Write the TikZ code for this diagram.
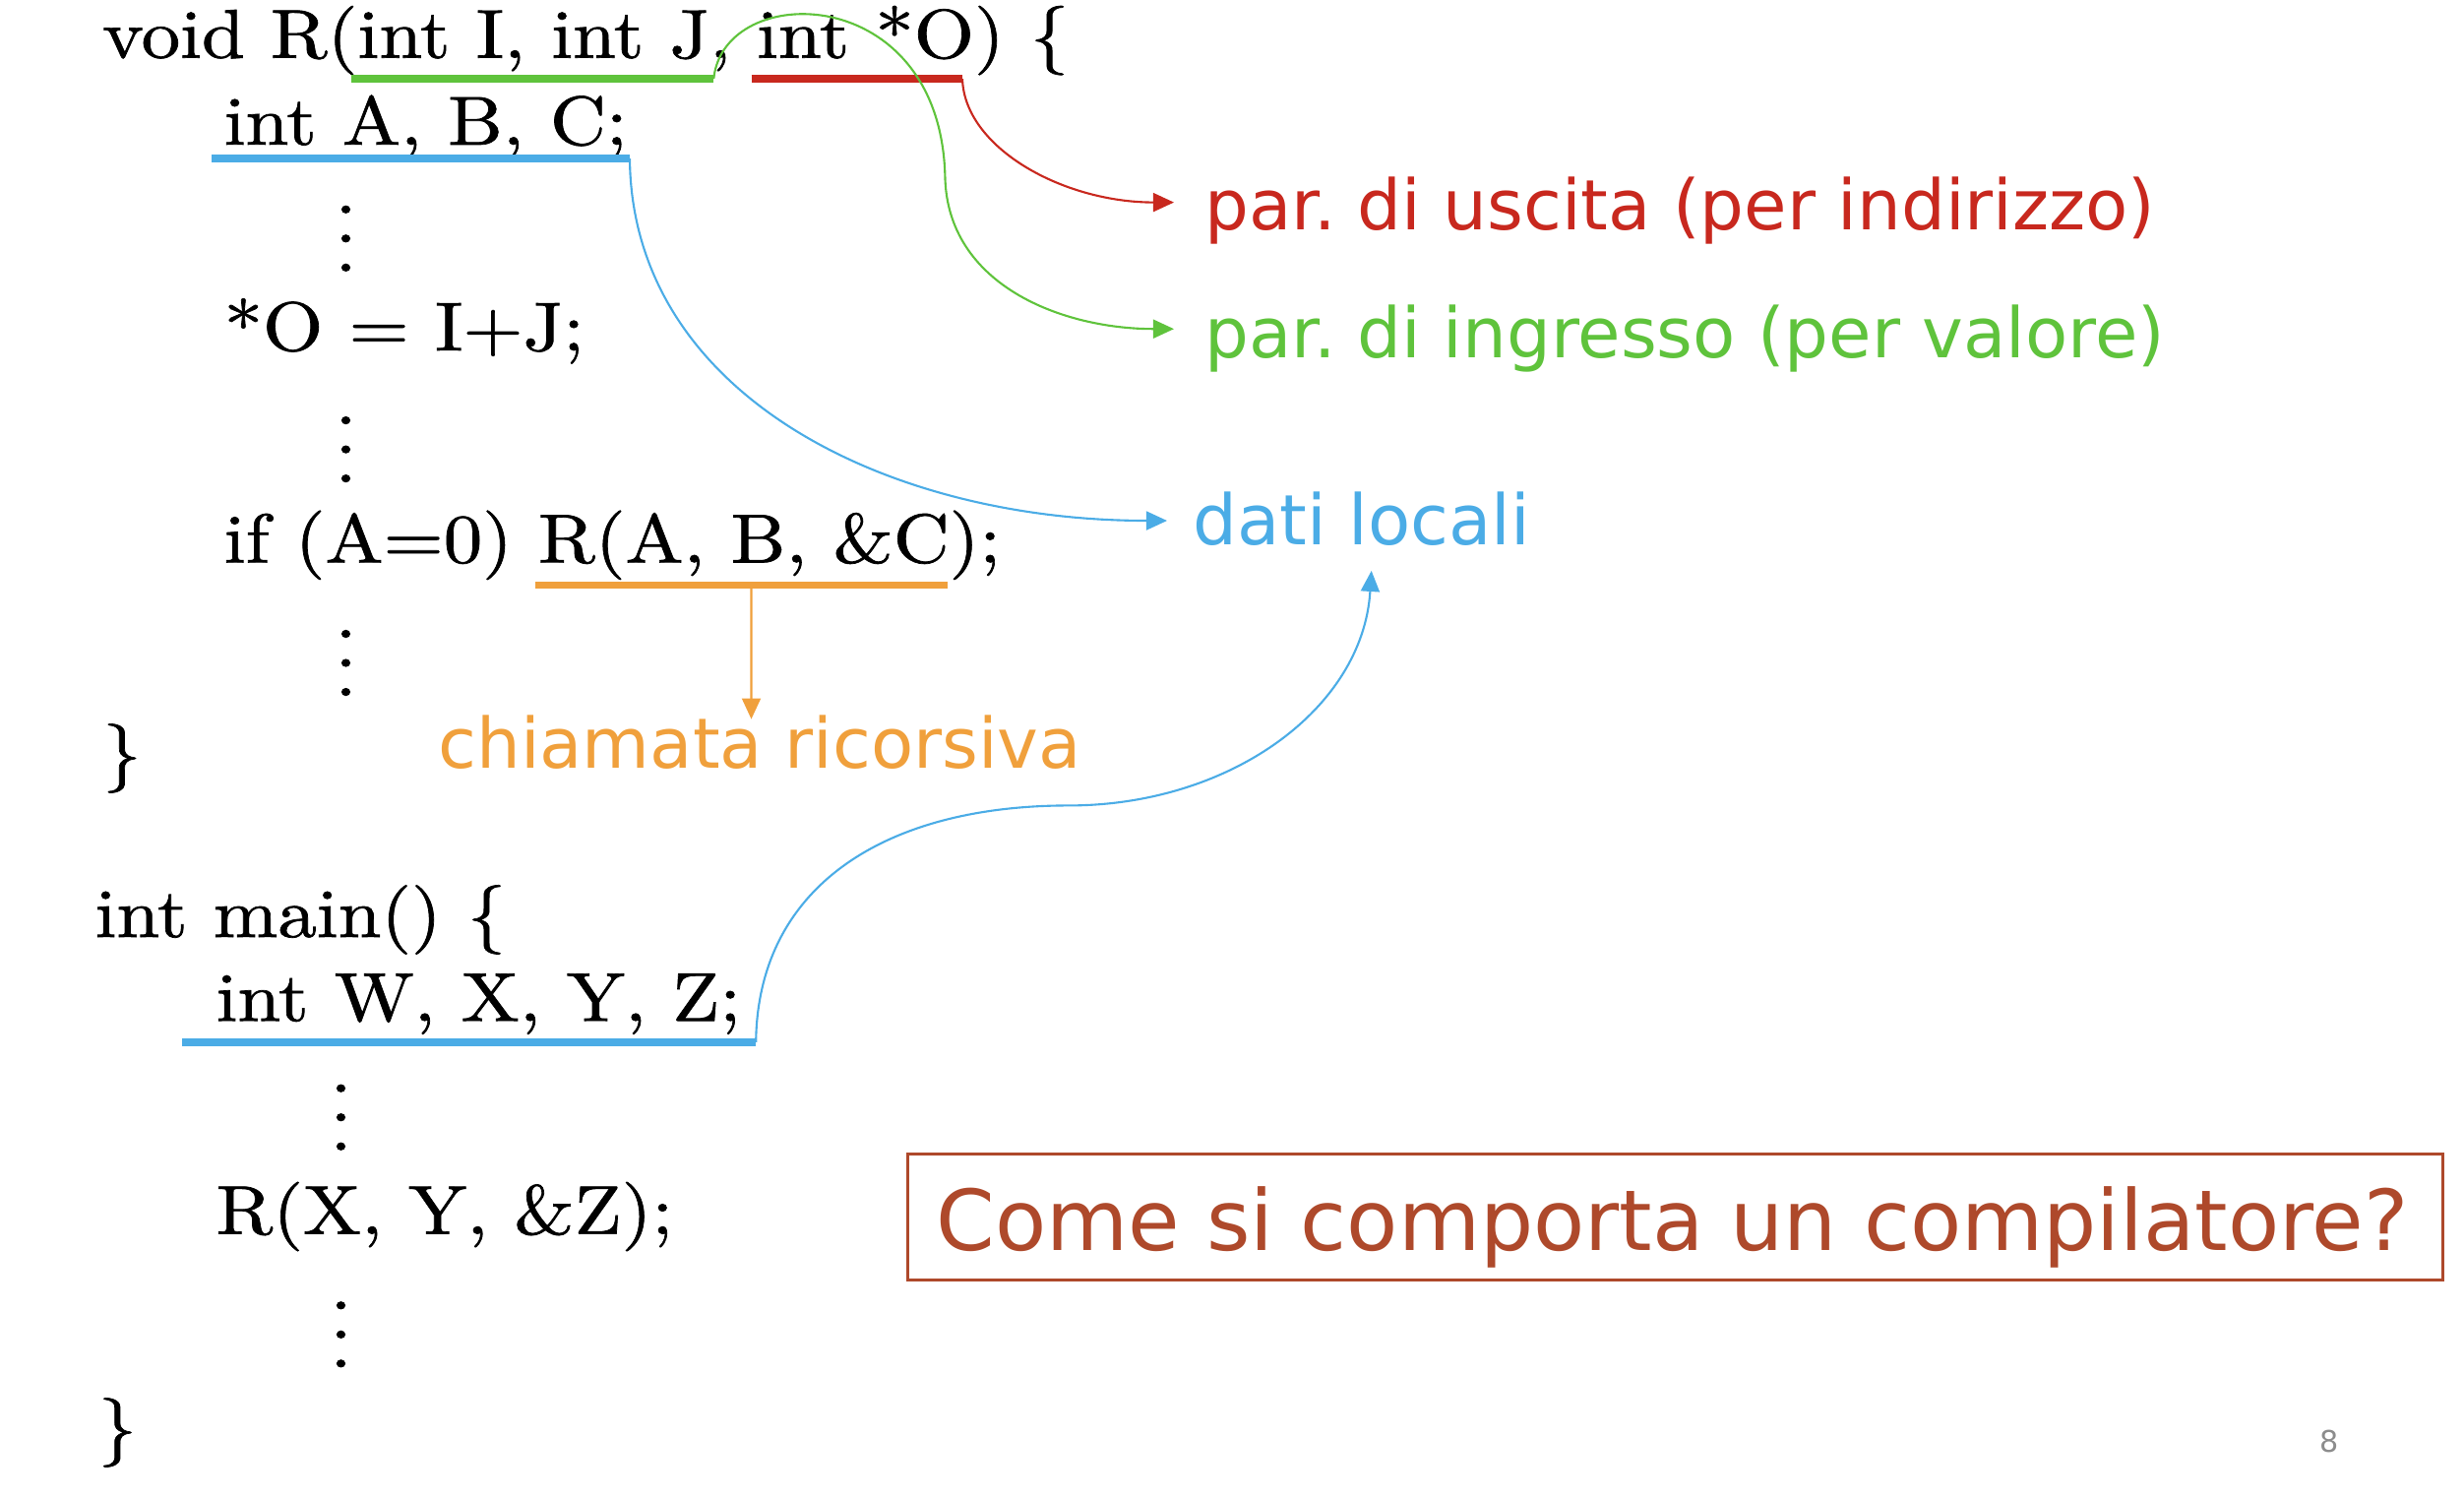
\documentclass[tikz,border=0pt]{standalone}
\usepackage{fontspec}
\usetikzlibrary{arrows.meta}
\newfontfamily\notefont{DejaVu Sans}
\newfontfamily\codefont[FakeStretch=1.12,FakeBold=1]{lmroman10-regular.otf}
\definecolor{parout}{HTML}{C8281E}
\definecolor{parin}{HTML}{5FC33C}
\definecolor{local}{HTML}{4BACE6}
\definecolor{recur}{HTML}{F0A03C}
\definecolor{question}{HTML}{AE492B}
\tikzset{
  code/.style={anchor=base west, inner sep=0pt, font=\codefont\fontsize{20}{24}\selectfont},
  note/.style={anchor=base west, inner sep=0pt, font=\notefont\fontsize{20.1}{24}\selectfont\frenchspacing},
  uline/.style={line width=2.2pt},
  link/.style={line width=0.6pt, -{Triangle[length=6pt,width=5.4pt]}},
}
\newcommand{\codedots}[3]{\node[inner sep=0pt, font=\codefont\fontsize{20}{24}\selectfont] (#1) at (#2,#3) {\vbox{\baselineskip=8.4pt\lineskiplimit=0pt\hbox{.}\hbox{.}\hbox{.}}};}

\begin{document}
\begin{tikzpicture}[x=0.1mm,y=-0.1mm]
    \useasboundingbox (0,0) rectangle (2504,1522);
    % function R
    \node[code] (headR) at (103.6,58.7) {void R(int I, int J, int *O) \{};
    \node[code] (declR) at (227,146.9) {int A, B, C;};
    \codedots{dotsA}{351.5}{242.3}
    \node[code] (assign) at (227,356) {*O = I+J;};
    \codedots{dotsB}{351.5}{456.6}
    \node[code] (callR) at (227,571.4) {if (A=0) R(A, B, \&C);};
    \codedots{dotsC}{351.5}{673.5}
    \node[code] (closeR) at (103.6,788) {\}};
    % function main
    \node[code] (headM) at (95.8,952) {int main() \{};
    \node[code] (declM) at (218.8,1037.2) {int W, X, Y, Z;};
    \codedots{dotsD}{346.5}{1135.2}
    \node[code] (callM) at (218.8,1253.6) {R(X, Y, \&Z);};
    \codedots{dotsE}{346.5}{1355.8}
    \node[code] (closeM) at (99,1473) {\}};
    % labels
    \node[note, text=parout] (uscita) at (1223.6,233.9) {par. di uscita (per indirizzo)};
    \node[note, text=parin] (ingresso) at (1223.6,363.4) {par. di ingresso (per valore)};
    \node[note, text=local] (locali) at (1211.9,553.1) {dati locali};
    \node[note, text=recur] (ricorsiva) at (444.7,780.6) {chiamata ricorsiva};
    \node[draw=question, line width=0.85pt, outer sep=0pt, inner xsep=2.9mm, inner ysep=1mm,
          text height=8.73mm, text depth=2mm, anchor=base west, text=question,
          font=\notefont\fontsize{24.3}{28}\selectfont] (domanda) at (922.7,1270)
          {\makebox[150.2mm][l]{Come si comporta un compilatore?}};
    \node[anchor=base west, inner sep=0pt, text=black!45, font=\notefont\fontsize{8.6}{10}\selectfont] (pagina) at (2357,1475) {8};
    % underlines
    \coordinate (inA) at (357,80.1);   \coordinate (inB) at (725.3,80.1);
    \coordinate (outA) at (763.5,80.1); \coordinate (outB) at (978,80.1);
    \coordinate (locA) at (215.2,161.2); \coordinate (locB) at (640,161.2);
    \coordinate (recA) at (543.6,594.4); \coordinate (recB) at (962.8,594.4);
    \coordinate (recM) at (763.5,594.4);
    \coordinate (mainA) at (185.2,1058.8); \coordinate (mainB) at (768.2,1058.8);
    \draw[uline, parin] (inA) -- (inB);
    \draw[uline, parout] (outA) -- (outB);
    \draw[uline, local] (locA) -- (locB);
    \draw[uline, recur] (recA) -- (recB);
    \draw[uline, local] (mainA) -- (mainB);
    % connectors
    \draw[link, parout] (outB) .. controls (980,150) and (1080,205.6) .. ([shift={(-30.6,-28.3)}]uscita.base west);
    \draw[link, parin] (inB) .. controls (735,-20) and (955,-20) .. (960.4,178.6)
        .. controls (962,290) and (1080,334.2) .. ([shift={(-30.6,-29.2)}]ingresso.base west);
    \draw[link, local] (locB) .. controls (642,400) and (900,529) .. ([shift={(-25.9,-24.1)}]locali.base west);
    \draw[link, recur] (recM) -- ([shift={(318.8,-50)}]ricorsiva.base west);
    \draw[link, local] (mainB) .. controls (770,900) and (900,818.4) .. (1086,818.4)
        .. controls (1250,818.4) and (1385,720) .. ([shift={(181.8,26.8)}]locali.base west);
\end{tikzpicture}
\end{document}
